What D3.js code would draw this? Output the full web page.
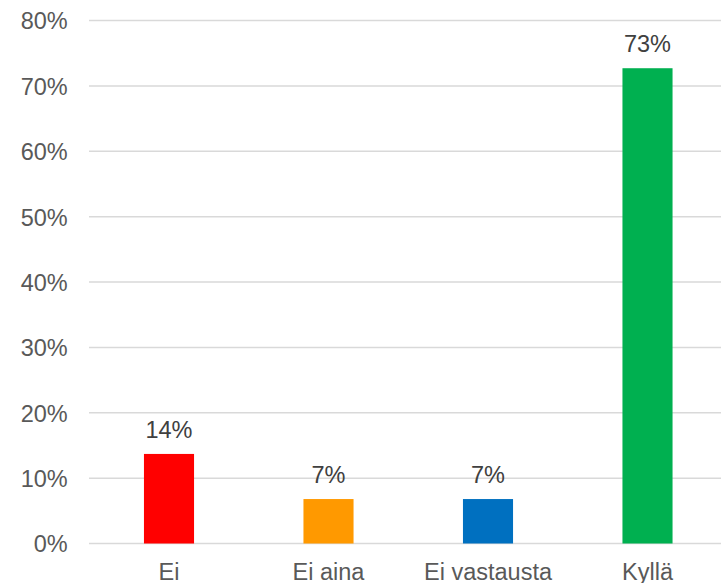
<!DOCTYPE html>
<html><head><meta charset="utf-8">
<script src="https://cdn.jsdelivr.net/npm/d3@7"></script>
<style>html,body{margin:0;padding:0;background:#fff;}svg{display:block;}</style>
</head><body>
<script>
const categories = ["Ei", "Ei aina", "Ei vastausta", "Kyllä"];
const values = [13.7, 6.8, 6.8, 72.7];
const labels = ["14%", "7%", "7%", "73%"];
const colors = ["#FF0000", "#FF9900", "#0070C0", "#00B050"];
const yTicks = [0, 10, 20, 30, 40, 50, 60, 70, 80];

const W = 721, H = 583;
const svg = d3.select("body").append("svg").attr("width", W).attr("height", H);
const font = "'Liberation Sans', Arial, sans-serif";
const fs = 23.5;

const x = d3.scaleBand().domain(categories).range([89.25, 727.25]).paddingInner(0.686).paddingOuter(0.343);
const y = d3.scaleLinear().domain([0, 80]).range([543.5, 20.5]);

// gridlines
svg.append("g").selectAll("line").data(yTicks).join("line")
  .attr("x1", 89).attr("x2", W)
  .attr("y1", d => y(d)).attr("y2", d => y(d))
  .attr("stroke", "#d9d9d9").attr("stroke-width", 1.5);

// y axis labels
const yAxis = d3.axisLeft(y).tickValues(yTicks).tickFormat(d => d + "%").tickSize(0).tickPadding(0);
const gy = svg.append("g").attr("transform", "translate(67.7,0)").call(yAxis);
gy.select(".domain").remove();
gy.selectAll("text").attr("font-family", font).attr("font-size", fs).attr("fill", "#595959").attr("dy", "0.36em");

// bars
svg.append("g").selectAll("rect").data(categories).join("rect")
  .attr("x", d => x(d)).attr("width", x.bandwidth())
  .attr("y", (d, i) => y(values[i]))
  .attr("height", (d, i) => y(0) - y(values[i]))
  .attr("fill", (d, i) => colors[i]);

// data labels
svg.append("g").selectAll("text").data(categories).join("text")
  .attr("x", d => x(d) + x.bandwidth() / 2)
  .attr("y", (d, i) => y(values[i]) - 16)
  .attr("text-anchor", "middle")
  .attr("font-family", font).attr("font-size", fs).attr("fill", "#404040")
  .text((d, i) => labels[i]);

// x axis labels
const xAxis = d3.axisBottom(x).tickSize(0).tickPadding(0);
const gx = svg.append("g").attr("transform", "translate(0,563)").call(xAxis);
gx.select(".domain").remove();
gx.selectAll("text").attr("font-family", font).attr("font-size", fs).attr("fill", "#595959").attr("dy", "0.72em");
</script>
</body></html>
